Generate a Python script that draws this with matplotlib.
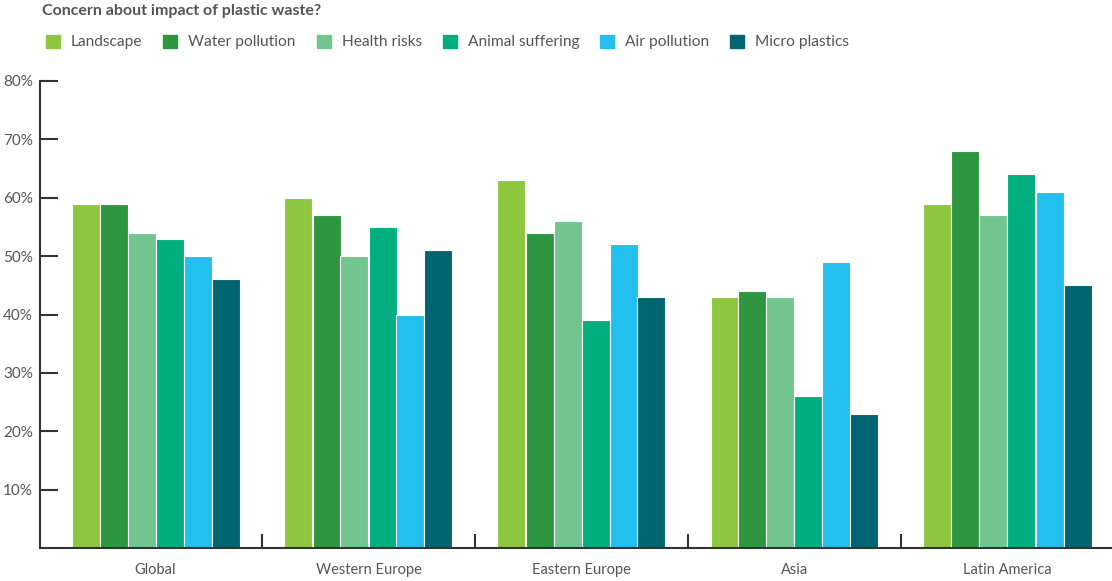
import matplotlib.pyplot as plt
import matplotlib.patches as mpatches
import numpy as np

plt.rcParams['font.family'] = ['Lato', 'DejaVu Sans']

# Survey results per region (percent)
regions = ["Global", "Western Europe", "Eastern Europe", "Asia", "Latin America"]
concerns = ["Landscape", "Water pollution", "Health risks", "Animal suffering",
            "Air pollution", "Micro plastics"]
landscape = [59, 60, 63, 43, 59]
water_pollution = [59, 57, 54, 44, 68]
health_risks = [54, 50, 56, 43, 57]
animal_suffering = [53, 55, 39, 26, 64]
air_pollution = [50, 40, 52, 49, 61]
micro_plastics = [46, 51, 43, 23, 45]
yticks = [10, 20, 30, 40, 50, 60, 70, 80]

series = [landscape, water_pollution, health_risks, animal_suffering,
          air_pollution, micro_plastics]
colors = ["#8DC63F", "#2E963F", "#72C58F", "#00AE7F", "#22BFEF", "#006570"]
text_color = "#555555"

fig = plt.figure(figsize=(11.12, 5.81), dpi=100)
ax = fig.add_axes([40 / 1112, 33 / 581, 1072 / 1112, 467 / 581])

x = np.arange(len(regions))
bar_w = 28 / 213
for i, (vals, col) in enumerate(zip(series, colors)):
    offset = (i - 2.5) * bar_w
    ax.bar(x + offset, vals, width=bar_w, color=col, edgecolor="white",
           linewidth=0.8, zorder=2)

ax.set_xlim(-115.5 / 213, (1112 - 155.5) / 213)
ax.set_ylim(0, 80)

# y axis: ticks pointing into the plot, labels on the left
ax.set_yticks(yticks)
ax.set_yticklabels([f"{v}%" for v in yticks])
ax.tick_params(axis="y", direction="in", length=13, width=1.5, color="#333333",
               labelcolor=text_color, labelsize=11, pad=5)

# x axis: region names centered, separators between groups
ax.set_xticks(x)
ax.set_xticklabels(regions)
ax.tick_params(axis="x", length=0, labelcolor=text_color, labelsize=10.5, pad=11)
ax.set_xticks(x[:-1] + 0.5, minor=True)
ax.tick_params(axis="x", which="minor", direction="in", length=10, width=1.5,
               color="#333333")

for side in ["top", "right"]:
    ax.spines[side].set_visible(False)
for side in ["left", "bottom"]:
    ax.spines[side].set_linewidth(1.5)
    ax.spines[side].set_color("#333333")

fig.text(42 / 1112, 1 - 11 / 581, "Concern about impact of plastic waste?",
         fontsize=11.5, fontweight="bold", color=text_color, va="center", ha="left")

handles = [mpatches.Patch(color=c, label=l) for c, l in zip(colors, concerns)]
fig.legend(handles=handles, loc="center left", bbox_to_anchor=(32 / 1112, 1 - 42 / 581),
           ncol=6, frameon=False, fontsize=11.2, labelcolor=text_color,
           handlelength=0.9, handleheight=0.9, handletextpad=0.7, columnspacing=1.35)

fig.savefig("out.png", dpi=100)
